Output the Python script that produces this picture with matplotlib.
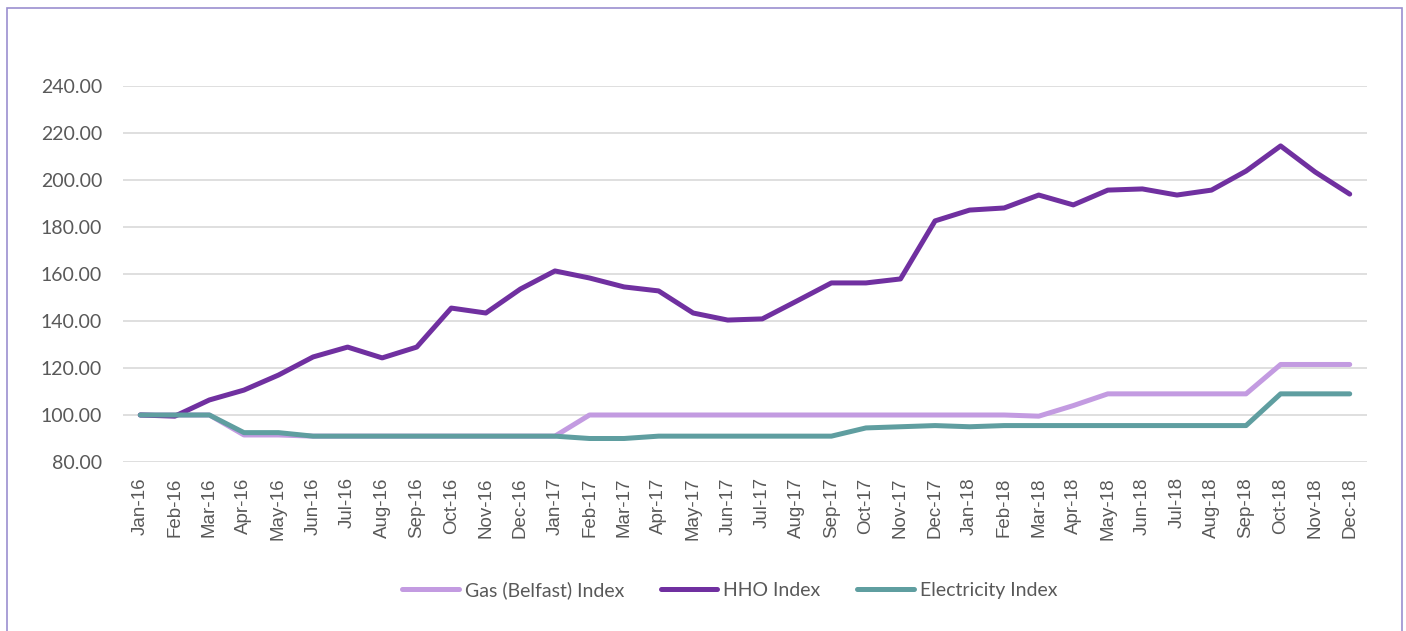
import matplotlib
matplotlib.use("Agg")
import matplotlib.pyplot as plt
from matplotlib.patches import Rectangle

months = ["Jan-16", "Feb-16", "Mar-16", "Apr-16", "May-16", "Jun-16", "Jul-16", "Aug-16", "Sep-16",
          "Oct-16", "Nov-16", "Dec-16", "Jan-17", "Feb-17", "Mar-17", "Apr-17", "May-17", "Jun-17",
          "Jul-17", "Aug-17", "Sep-17", "Oct-17", "Nov-17", "Dec-17", "Jan-18", "Feb-18", "Mar-18",
          "Apr-18", "May-18", "Jun-18", "Jul-18", "Aug-18", "Sep-18", "Oct-18", "Nov-18", "Dec-18"]

gas_index = [100, 100, 100, 91.5, 91.5, 91, 91, 91, 91, 91, 91, 91, 91,
             100, 100, 100, 100, 100, 100, 100, 100, 100, 100, 100, 100, 100,
             99.5, 104, 109, 109, 109, 109, 109, 121.5, 121.5, 121.5]

hho_index = [100, 99.5, 106.4, 110.6, 117, 124.7, 128.9, 124.3, 128.9, 145.5, 143.4, 153.6,
             161.3, 158.3, 154.5, 152.8, 143.4, 140.4, 140.9, 148.5, 156.2, 156.2, 157.9, 182.6,
             187.2, 188.1, 193.6, 189.4, 195.7, 196.2, 193.6, 195.7, 203.8, 214.5, 203.4, 194]

elec_index = [100, 100, 100, 92.5, 92.5, 91, 91, 91, 91, 91, 91, 91, 91,
              90, 90, 91, 91, 91, 91, 91, 91, 94.5, 95, 95.5, 95, 95.5,
              95.5, 95.5, 95.5, 95.5, 95.5, 95.5, 95.5, 109, 109, 109]

series_labels = ["Gas (Belfast) Index", "HHO Index", "Electricity Index"]
y_ticks = [80, 100, 120, 140, 160, 180, 200, 220, 240]

plt.rcParams['font.family'] = ['Lato', 'DejaVu Sans']

fig = plt.figure(figsize=(14.06, 6.31), dpi=100)
ax = fig.add_axes([123/1406, 1-462/631, (1367-123)/1406, (462-86)/631])

x = list(range(len(months)))
lw = 3.6
ax.plot(x, gas_index, color="#C39BE1", lw=lw, label=series_labels[0], solid_capstyle="round", zorder=3)
ax.plot(x, hho_index, color="#7030A0", lw=lw, label=series_labels[1], solid_capstyle="round", zorder=3)
ax.plot(x, elec_index, color="#5F9EA0", lw=lw, label=series_labels[2], solid_capstyle="round", zorder=4)

ax.set_xlim(-0.5, len(months) - 0.5)
ax.set_ylim(80, 240)
ax.set_yticks(y_ticks)
ax.set_yticklabels([f"{v:.2f}" for v in y_ticks], fontsize=14)
ax.set_xticks(x)
ax.set_xticklabels(months, rotation=90, family=["Liberation Sans", "DejaVu Sans"], fontsize=13.5)
ax.tick_params(axis='both', length=0, colors="#595959")
ax.tick_params(axis='y', pad=15)
ax.tick_params(axis='x', pad=11)
for s in ax.spines.values():
    s.set_visible(False)
ax.yaxis.grid(True, color="#D9D9D9", lw=1.2)
ax.set_axisbelow(True)

leg = fig.legend(loc="center", bbox_to_anchor=(0.519, 1-590/631), ncol=3, frameon=False,
                 fontsize=14, handlelength=2.9, columnspacing=1.9, handletextpad=0.3)
for t in leg.get_texts():
    t.set_color("#595959")

fig.patches.append(Rectangle((7/1406, -0.05), (1402-7)/1406, 1.05 - 8/631,
                             transform=fig.transFigure, fill=False, edgecolor="#9B8FD0", lw=1.2))

fig.savefig("out.png", dpi=100, facecolor="white")
